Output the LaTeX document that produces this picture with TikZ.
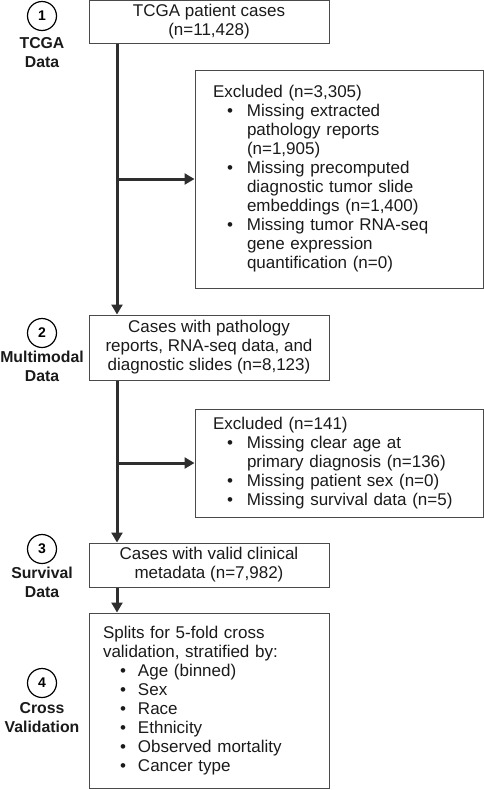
\documentclass[tikz,border=0pt]{standalone}
\usepackage{fontspec}
\setmainfont{Liberation Sans}
\usetikzlibrary{arrows.meta}
\definecolor{boxgray}{HTML}{4A4A4A}
\definecolor{arrgray}{HTML}{2E2E2E}
\definecolor{txt}{HTML}{1A1A1A}
\newcommand\fsmain{\fontsize{17}{19}\selectfont}
\newcommand\fslab{\fontsize{15.8}{19}\selectfont\bfseries}
\newcommand\bi{\makebox[34pt][l]{\hspace{14pt}\textbullet}}
\newcommand\ci{\hspace*{34pt}}
\newcommand\bj{\makebox[35pt][l]{\hspace{17pt}\textbullet}}
\tikzset{
  cbox/.style={draw=boxgray, line width=1pt, inner sep=0pt, font=\fsmain, text=txt, align=center, minimum width=240pt},
  lbox/.style={draw=boxgray, line width=1pt, inner ysep=0pt, font=\fsmain, text=txt, align=left},
  num/.style={circle, draw=black, line width=1.2pt, minimum size=29pt, inner sep=0pt, font=\fontsize{14}{16}\selectfont\bfseries},
  lab/.style={align=center, font=\fslab, text=txt, inner sep=0pt},
  arr/.style={draw=arrgray, line width=3pt, -{Triangle[length=10pt,width=11pt]}},
  seg/.style={draw=arrgray, line width=3pt}
}
\begin{document}
\begin{tikzpicture}[x=1pt,y=-1pt]
\useasboundingbox (0,0) rectangle (484,790);
% main boxes
\node[cbox, minimum height=43pt] (b1) at (209,21.5) {TCGA patient cases\\(n=11,428)};
\node[cbox, minimum height=65pt] (b2) at (209,347.5) {Cases with pathology\\reports, RNA-seq data, and\\diagnostic slides (n=8,123)};
\node[cbox, minimum height=44pt] (b3) at (209,565) {Cases with valid clinical\\metadata (n=7,982)};
\node[lbox, text width=212pt, inner xsep=14pt, minimum height=175pt] (b4) at (209,700.5) {Splits for 5-fold cross\\validation, stratified by:\\
\bj Age (binned)\\
\bj Sex\\
\bj Race\\
\bj Ethnicity\\
\bj Observed mortality\\
\bj Cancer type};
% exclusion boxes
\node[lbox, text width=252pt, inner xsep=18pt, minimum height=218pt] (e1) at (339,179) {Excluded (n=3,305)\\
\bi Missing extracted\\
\ci pathology reports\\
\ci (n=1,905)\\
\bi Missing precomputed\\
\ci diagnostic tumor slide\\
\ci embeddings (n=1,400)\\
\bi Missing tumor RNA-seq\\
\ci gene expression\\
\ci quantification (n=0)};
\node[lbox, text width=252pt, inner xsep=18pt, minimum height=108pt] (e2) at (339,463) {Excluded (n=141)\\
\bi Missing clear age at\\
\ci primary diagnosis (n=136)\\
\bi Missing patient sex (n=0)\\
\bi Missing survival data (n=5)};
% step markers
\node[num] (c1) at (42,16) {1};
\node[lab] (l1) at (42,52.5) {TCGA\\Data};
\node[num] (c2) at (42,333) {2};
\node[lab] (l2) at (42,366.5) {Multimodal\\Data};
\node[num] (c3) at (42,549) {3};
\node[lab] (l3) at (42,582) {Survival\\Data};
\node[num] (c4) at (42,683) {4};
\node[lab] (l4) at (42,717.5) {Cross\\Validation};
% connectors
\coordinate (t) at (117,0);
\draw[arr] (b1.south -| t) -- (b2.north -| t);
\draw[arr] (e1.west -| t) -- (e1.west);
\draw[arr] (b2.south -| t) -- (b3.north -| t);
\draw[arr] (e2.west -| t) -- (e2.west);
\draw[arr] (b3.south -| t) -- (b4.north -| t);
\end{tikzpicture}
\end{document}
